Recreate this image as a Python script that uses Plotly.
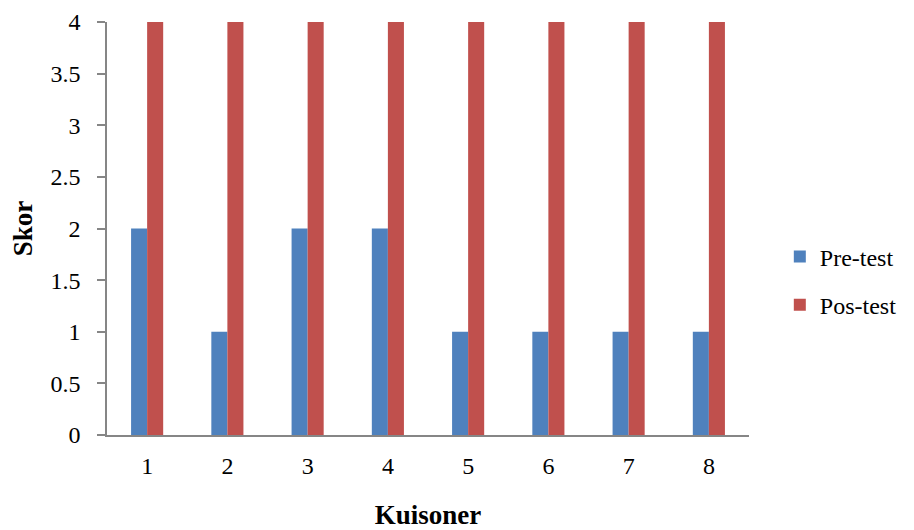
import plotly.graph_objects as go

categories = ["1", "2", "3", "4", "5", "6", "7", "8"]
pre_test = [2, 1, 2, 2, 1, 1, 1, 1]
pos_test = [4, 4, 4, 4, 4, 4, 4, 4]
y_ticks = [0, 0.5, 1, 1.5, 2, 2.5, 3, 3.5, 4]

FONT = "Liberation Serif"
FS = 24

fig = go.Figure()
fig.add_trace(go.Bar(name="Pre-test", x=categories, y=pre_test,
                     marker=dict(color="#4F81BD", line=dict(width=0)), legendgroup="a"))
fig.add_trace(go.Bar(name="Pos-test", x=categories, y=pos_test,
                     marker=dict(color="#C0504D", line=dict(width=0)), legendgroup="b"))

fig.update_layout(
    width=906, height=522,
    margin=dict(l=99, r=165, t=14, b=95),
    paper_bgcolor="white", plot_bgcolor="white",
    barmode="group", bargap=0.6, bargroupgap=0,
    font=dict(family=FONT, size=FS, color="black"),
    showlegend=True,
    legend=dict(x=1.048, y=0.373, xanchor="left", yanchor="middle",
                font=dict(family=FONT, size=FS), tracegroupgap=14,
                itemwidth=30),
    xaxis=dict(
        showline=True, linecolor="#868686", linewidth=1.5,
        ticks="", ticklabelstandoff=8, automargin=False,
        title=dict(text="<b>Kuisoner</b>", font=dict(family=FONT, size=27), standoff=34),
        showgrid=False,
    ),
    yaxis=dict(
        range=[0, 4], tickvals=y_ticks, ticktext=[f"{v:g}" for v in y_ticks],
        showline=True, linecolor="#868686", linewidth=1.5,
        ticks="outside", ticklen=8, tickcolor="#868686", tickwidth=1.5,
        ticklabelstandoff=12, automargin=False,
        title=dict(text="<b>Skor</b>", font=dict(family=FONT, size=27), standoff=14),
        showgrid=False, zeroline=False,
    ),
)

fig.write_html("out.html")
